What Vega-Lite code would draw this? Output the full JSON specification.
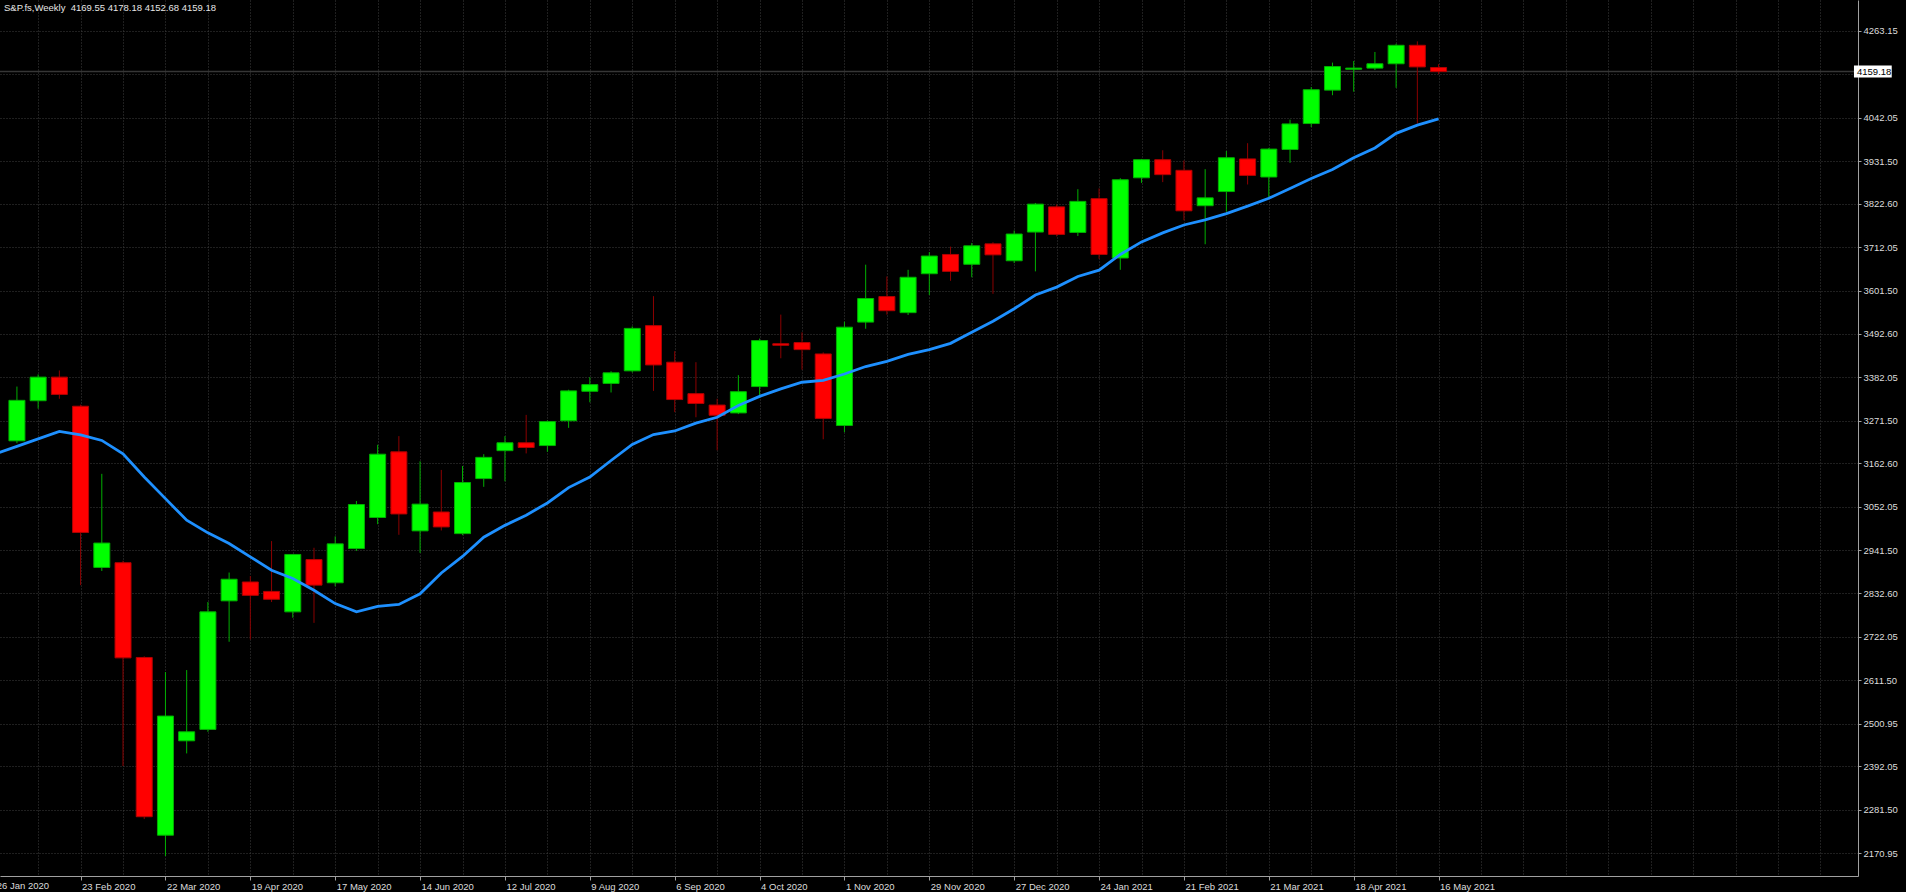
{
  "$schema": "https://vega.github.io/schema/vega-lite/v6.json",
  "width": 1858,
  "height": 876,
  "autosize": {"type": "none"},
  "padding": {"left": 0, "top": 0, "right": 48, "bottom": 16},
  "background": "#000000",
  "config": {
    "view": {"stroke": null},
    "font": "Liberation Sans",
    "axis": {
      "labelFont": "Liberation Sans",
      "labelFontSize": 9.5,
      "labelColor": "#dcdcdc",
      "domainColor": "#a0a0a0",
      "tickColor": "#a0a0a0",
      "gridColor": "#3e3e3e",
      "gridDash": [1, 2],
      "gridWidth": 1,
      "title": null
    }
  },
  "title": {
    "text": "S&P.fs,Weekly\u00a0 4169.55 4178.18 4152.68 4159.18",
    "anchor": "start",
    "frame": "group",
    "orient": "top",
    "offset": -10,
    "baseline": "alphabetic",
    "dx": 4,
    "dy": 10,
    "font": "Liberation Sans",
    "fontSize": 9.5,
    "fontWeight": "normal",
    "color": "#e6e6e6"
  },
  "data": {
    "values": [
      {"date": "2020-01-26", "ma": 3187},
      {"date": "2020-02-02", "o": 3220, "h": 3358, "l": 3214, "c": 3323, "ma": 3206},
      {"date": "2020-02-09", "o": 3322, "h": 3389, "l": 3302, "c": 3382, "ma": 3225},
      {"date": "2020-02-16", "o": 3382, "h": 3399, "l": 3327, "c": 3338, "ma": 3244},
      {"date": "2020-02-23", "o": 3308, "h": 3312, "l": 2853, "c": 2987, "ma": 3235},
      {"date": "2020-03-01", "o": 2898, "h": 3136, "l": 2889, "c": 2960, "ma": 3221},
      {"date": "2020-03-08", "o": 2910, "h": 2915, "l": 2393, "c": 2668, "ma": 3187},
      {"date": "2020-03-15", "o": 2669, "h": 2672, "l": 2258, "c": 2264, "ma": 3128},
      {"date": "2020-03-22", "o": 2217, "h": 2632, "l": 2164, "c": 2520, "ma": 3073},
      {"date": "2020-03-29", "o": 2457, "h": 2637, "l": 2425, "c": 2480, "ma": 3018},
      {"date": "2020-04-05", "o": 2486, "h": 2810, "l": 2480, "c": 2785, "ma": 2986},
      {"date": "2020-04-12", "o": 2813, "h": 2885, "l": 2709, "c": 2868, "ma": 2959},
      {"date": "2020-04-19", "o": 2861, "h": 2876, "l": 2715, "c": 2827, "ma": 2925},
      {"date": "2020-04-26", "o": 2837, "h": 2965, "l": 2810, "c": 2817, "ma": 2891},
      {"date": "2020-05-03", "o": 2785, "h": 2932, "l": 2770, "c": 2931, "ma": 2870},
      {"date": "2020-05-10", "o": 2918, "h": 2948, "l": 2757, "c": 2853, "ma": 2840},
      {"date": "2020-05-17", "o": 2859, "h": 2977, "l": 2850, "c": 2958, "ma": 2806},
      {"date": "2020-05-24", "o": 2946, "h": 3067, "l": 2940, "c": 3058, "ma": 2785},
      {"date": "2020-05-31", "o": 3025, "h": 3210, "l": 3008, "c": 3186, "ma": 2799},
      {"date": "2020-06-07", "o": 3192, "h": 3232, "l": 2981, "c": 3034, "ma": 2804},
      {"date": "2020-06-14", "o": 2991, "h": 3168, "l": 2935, "c": 3059, "ma": 2831},
      {"date": "2020-06-21", "o": 3039, "h": 3146, "l": 2992, "c": 3001, "ma": 2884},
      {"date": "2020-06-28", "o": 2984, "h": 3156, "l": 2980, "c": 3114, "ma": 2926},
      {"date": "2020-07-05", "o": 3124, "h": 3186, "l": 3103, "c": 3178, "ma": 2975},
      {"date": "2020-07-12", "o": 3195, "h": 3232, "l": 3117, "c": 3215, "ma": 3005},
      {"date": "2020-07-19", "o": 3215, "h": 3286, "l": 3188, "c": 3203, "ma": 3031},
      {"date": "2020-07-26", "o": 3208, "h": 3272, "l": 3192, "c": 3269, "ma": 3062},
      {"date": "2020-08-02", "o": 3271, "h": 3350, "l": 3253, "c": 3347, "ma": 3101},
      {"date": "2020-08-09", "o": 3346, "h": 3382, "l": 3318, "c": 3363, "ma": 3128},
      {"date": "2020-08-16", "o": 3366, "h": 3397, "l": 3343, "c": 3393, "ma": 3170},
      {"date": "2020-08-23", "o": 3398, "h": 3511, "l": 3394, "c": 3506, "ma": 3211},
      {"date": "2020-08-30", "o": 3513, "h": 3588, "l": 3347, "c": 3413, "ma": 3236},
      {"date": "2020-09-06", "o": 3420, "h": 3448, "l": 3293, "c": 3325, "ma": 3245},
      {"date": "2020-09-13", "o": 3340, "h": 3420, "l": 3280, "c": 3315, "ma": 3265},
      {"date": "2020-09-20", "o": 3311, "h": 3327, "l": 3196, "c": 3285, "ma": 3280},
      {"date": "2020-09-27", "o": 3291, "h": 3387, "l": 3288, "c": 3345, "ma": 3310},
      {"date": "2020-10-04", "o": 3358, "h": 3480, "l": 3336, "c": 3475, "ma": 3333},
      {"date": "2020-10-11", "o": 3467, "h": 3541, "l": 3430, "c": 3463, "ma": 3352},
      {"date": "2020-10-18", "o": 3470, "h": 3496, "l": 3401, "c": 3452, "ma": 3369},
      {"date": "2020-10-25", "o": 3441, "h": 3445, "l": 3224, "c": 3277, "ma": 3374},
      {"date": "2020-11-01", "o": 3259, "h": 3523, "l": 3242, "c": 3509, "ma": 3390},
      {"date": "2020-11-08", "o": 3522, "h": 3668, "l": 3505, "c": 3582, "ma": 3409},
      {"date": "2020-11-15", "o": 3587, "h": 3638, "l": 3541, "c": 3551, "ma": 3422},
      {"date": "2020-11-22", "o": 3546, "h": 3655, "l": 3540, "c": 3636, "ma": 3440},
      {"date": "2020-11-29", "o": 3645, "h": 3700, "l": 3591, "c": 3690, "ma": 3452},
      {"date": "2020-12-06", "o": 3694, "h": 3714, "l": 3627, "c": 3651, "ma": 3468},
      {"date": "2020-12-13", "o": 3669, "h": 3723, "l": 3636, "c": 3716, "ma": 3496},
      {"date": "2020-12-20", "o": 3721, "h": 3725, "l": 3594, "c": 3693, "ma": 3524},
      {"date": "2020-12-27", "o": 3678, "h": 3755, "l": 3672, "c": 3746, "ma": 3556},
      {"date": "2021-01-03", "o": 3751, "h": 3825, "l": 3651, "c": 3822, "ma": 3591},
      {"date": "2021-01-10", "o": 3815, "h": 3821, "l": 3740, "c": 3745, "ma": 3611},
      {"date": "2021-01-17", "o": 3750, "h": 3860, "l": 3741, "c": 3829, "ma": 3638},
      {"date": "2021-01-24", "o": 3836, "h": 3862, "l": 3683, "c": 3694, "ma": 3654},
      {"date": "2021-01-31", "o": 3685, "h": 3888, "l": 3655, "c": 3884, "ma": 3694},
      {"date": "2021-02-07", "o": 3889, "h": 3937, "l": 3876, "c": 3935, "ma": 3726},
      {"date": "2021-02-14", "o": 3935, "h": 3959, "l": 3878, "c": 3897, "ma": 3749},
      {"date": "2021-02-21", "o": 3908, "h": 3933, "l": 3781, "c": 3805, "ma": 3769},
      {"date": "2021-02-28", "o": 3818, "h": 3911, "l": 3720, "c": 3838, "ma": 3782},
      {"date": "2021-03-07", "o": 3854, "h": 3957, "l": 3803, "c": 3940, "ma": 3798},
      {"date": "2021-03-14", "o": 3937, "h": 3977, "l": 3872, "c": 3895, "ma": 3817},
      {"date": "2021-03-21", "o": 3891, "h": 3965, "l": 3840, "c": 3962, "ma": 3837},
      {"date": "2021-03-28", "o": 3961, "h": 4037, "l": 3927, "c": 4026, "ma": 3862},
      {"date": "2021-04-04", "o": 4027, "h": 4120, "l": 4018, "c": 4113, "ma": 3887},
      {"date": "2021-04-11", "o": 4112, "h": 4182, "l": 4099, "c": 4172, "ma": 3910},
      {"date": "2021-04-18", "o": 4165, "h": 4186, "l": 4108, "c": 4168, "ma": 3940},
      {"date": "2021-04-25", "o": 4168, "h": 4209, "l": 4163, "c": 4179, "ma": 3965},
      {"date": "2021-05-02", "o": 4179, "h": 4230, "l": 4118, "c": 4226, "ma": 4002},
      {"date": "2021-05-09", "o": 4226, "h": 4236, "l": 4027, "c": 4171, "ma": 4023},
      {"date": "2021-05-16", "o": 4169.55, "h": 4178.18, "l": 4152.68, "c": 4159.18, "ma": 4039}
    ]
  },
  "encoding": {
    "x": {
      "field": "date",
      "type": "temporal",
      "scale": {
        "type": "utc",
        "domain": [
          {"year": 2020, "month": 1, "date": 29, "hours": 1, "minutes": 30, "utc": true},
          {"year": 2021, "month": 9, "date": 29, "hours": 17, "minutes": 20, "utc": true}
        ]
      },
      "axis": {
        "orient": "bottom",
        "values": [
          {"year": 2020, "month": 1, "date": 26, "utc": true},
          {"year": 2020, "month": 2, "date": 9, "utc": true},
          {"year": 2020, "month": 2, "date": 23, "utc": true},
          {"year": 2020, "month": 3, "date": 8, "utc": true},
          {"year": 2020, "month": 3, "date": 22, "utc": true},
          {"year": 2020, "month": 4, "date": 5, "utc": true},
          {"year": 2020, "month": 4, "date": 19, "utc": true},
          {"year": 2020, "month": 5, "date": 3, "utc": true},
          {"year": 2020, "month": 5, "date": 17, "utc": true},
          {"year": 2020, "month": 5, "date": 31, "utc": true},
          {"year": 2020, "month": 6, "date": 14, "utc": true},
          {"year": 2020, "month": 6, "date": 28, "utc": true},
          {"year": 2020, "month": 7, "date": 12, "utc": true},
          {"year": 2020, "month": 7, "date": 26, "utc": true},
          {"year": 2020, "month": 8, "date": 9, "utc": true},
          {"year": 2020, "month": 8, "date": 23, "utc": true},
          {"year": 2020, "month": 9, "date": 6, "utc": true},
          {"year": 2020, "month": 9, "date": 20, "utc": true},
          {"year": 2020, "month": 10, "date": 4, "utc": true},
          {"year": 2020, "month": 10, "date": 18, "utc": true},
          {"year": 2020, "month": 11, "date": 1, "utc": true},
          {"year": 2020, "month": 11, "date": 15, "utc": true},
          {"year": 2020, "month": 11, "date": 29, "utc": true},
          {"year": 2020, "month": 12, "date": 13, "utc": true},
          {"year": 2020, "month": 12, "date": 27, "utc": true},
          {"year": 2021, "month": 1, "date": 10, "utc": true},
          {"year": 2021, "month": 1, "date": 24, "utc": true},
          {"year": 2021, "month": 2, "date": 7, "utc": true},
          {"year": 2021, "month": 2, "date": 21, "utc": true},
          {"year": 2021, "month": 3, "date": 7, "utc": true},
          {"year": 2021, "month": 3, "date": 21, "utc": true},
          {"year": 2021, "month": 4, "date": 4, "utc": true},
          {"year": 2021, "month": 4, "date": 18, "utc": true},
          {"year": 2021, "month": 5, "date": 2, "utc": true},
          {"year": 2021, "month": 5, "date": 16, "utc": true},
          {"year": 2021, "month": 5, "date": 30, "utc": true},
          {"year": 2021, "month": 6, "date": 13, "utc": true},
          {"year": 2021, "month": 6, "date": 27, "utc": true},
          {"year": 2021, "month": 7, "date": 11, "utc": true},
          {"year": 2021, "month": 7, "date": 25, "utc": true},
          {"year": 2021, "month": 8, "date": 8, "utc": true},
          {"year": 2021, "month": 8, "date": 22, "utc": true},
          {"year": 2021, "month": 9, "date": 5, "utc": true},
          {"year": 2021, "month": 9, "date": 19, "utc": true}
        ],
        "labelExpr": "round((datum.value - utc(2020,0,26)) / 604800000) % 4 == 0 && datum.value <= utc(2021,4,16) ? utcFormat(datum.value, '%-d %b %Y') : ''",
        "labelAlign": "left",
        "labelBaseline": "top",
        "labelPadding": 1,
        "labelOffset": 1,
        "labelFlush": false,
        "labelOverlap": false,
        "tickSize": 4,
        "tickOpacity": {
          "condition": {"test": "round((datum.value - utc(2020,0,26)) / 604800000) % 4 == 0 && datum.value <= utc(2021,4,16)", "value": 1},
          "value": 0
        },
        "grid": true
      }
    },
    "y": {
      "type": "quantitative",
      "scale": {"domain": [2113.2, 4341.2], "nice": false, "zero": false},
      "axis": {
        "orient": "right",
        "values": [4263.15, 4152.6, 4042.05, 3931.5, 3822.6, 3712.05, 3601.5, 3492.6, 3382.05, 3271.5, 3162.6, 3052.05, 2941.5, 2832.6, 2722.05, 2611.5, 2500.95, 2392.05, 2281.5, 2170.95],
        "labelExpr": "datum.value == 4152.6 ? '' : format(datum.value, '.2f')",
        "tickSize": 3,
        "labelPadding": 2,
        "grid": true
      }
    }
  },
  "layer": [
    {
      "data": {"values": [{"p": 4159.18}]},
      "mark": {"type": "rule", "color": "#363636", "strokeWidth": 1.5},
      "encoding": {"y": {"field": "p", "type": "quantitative"}, "x": null}
    },
    {
      "transform": [{"filter": "isValid(datum.o)"}],
      "mark": {"type": "rule", "strokeWidth": 1},
      "encoding": {
        "y": {"field": "l", "type": "quantitative"},
        "y2": {"field": "h"},
        "color": {"condition": {"test": "datum.c >= datum.o", "value": "#00b000"}, "value": "#8b0000"}
      }
    },
    {
      "transform": [{"filter": "isValid(datum.o)"}],
      "mark": {"type": "bar", "size": 16, "strokeWidth": 1},
      "encoding": {
        "y": {"field": "o", "type": "quantitative"},
        "y2": {"field": "c"},
        "fill": {"condition": {"test": "datum.c >= datum.o", "value": "#00ff00"}, "value": "#ff0000"},
        "stroke": {"condition": {"test": "datum.c >= datum.o", "value": "#00b000"}, "value": "#b00000"}
      }
    },
    {
      "mark": {"type": "line", "color": "#1e90ff", "strokeWidth": 2.8, "clip": true},
      "encoding": {"y": {"field": "ma", "type": "quantitative"}}
    },
    {
      "data": {"values": [{"d": "2020-01-26", "label": "26 Jan 2020", "p": 2100.5}]},
      "mark": {"type": "text", "align": "left", "baseline": "top", "dx": 1, "font": "Liberation Sans", "fontSize": 9.5, "color": "#dcdcdc", "clip": false},
      "encoding": {
        "x": {"field": "d", "type": "temporal"},
        "y": {"field": "p", "type": "quantitative"},
        "text": {"field": "label"}
      }
    },
    {
      "data": {"values": [{"d1": "2021-09-30T01:00:00Z", "d2": "2021-10-12T12:00:00Z", "p": 4159.18}]},
      "mark": {"type": "rule", "color": "#ffffff", "strokeWidth": 12, "strokeCap": "butt", "clip": false},
      "encoding": {
        "x": {"field": "d1", "type": "temporal"},
        "x2": {"field": "d2"},
        "y": {"field": "p", "type": "quantitative"}
      }
    },
    {
      "data": {"values": [{"d": "2021-10-01T01:00:00Z", "p": 4159.18, "label": "4159.18"}]},
      "mark": {"type": "text", "align": "left", "baseline": "middle", "font": "Liberation Sans", "fontSize": 9.5, "color": "#000000", "clip": false},
      "encoding": {
        "x": {"field": "d", "type": "temporal"},
        "y": {"field": "p", "type": "quantitative"},
        "text": {"field": "label"}
      }
    }
  ]
}
